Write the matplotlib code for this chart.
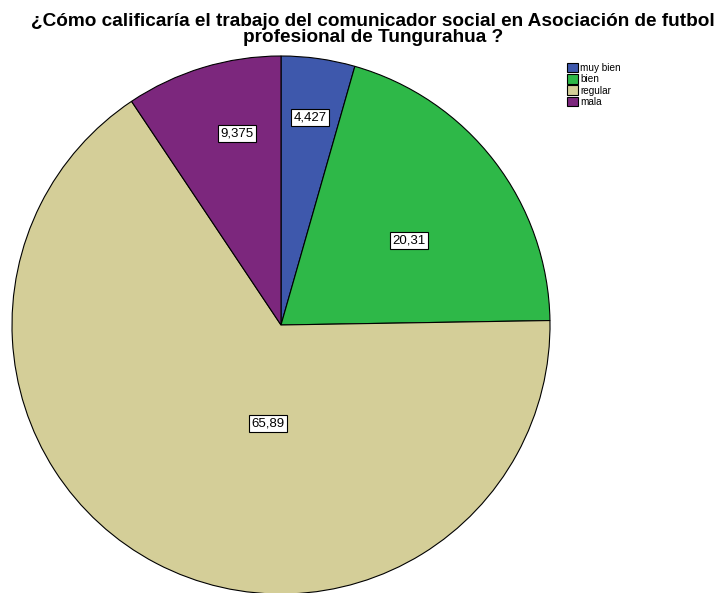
import numpy as np
import matplotlib
matplotlib.use("Agg")
import matplotlib.pyplot as plt
from matplotlib.patches import Patch

categorias = ["muy bien", "bien", "regular", "mala"]
valores = [4.427, 20.31, 65.89, 9.375]
etiquetas = ["4,427", "20,31", "65,89", "9,375"]
colores = ["#3E58AC", "#2EB848", "#D4CE98", "#7C277D"]
# posición radial de cada etiqueta (fracción del radio) y desfase angular
lab_r = [0.78, 0.57, 0.37, 0.73]
lab_da = [0, -4, 20, -4]

plt.rcParams["font.family"] = ["Liberation Sans", "DejaVu Sans"]

W, H, DPI = 721, 593, 100
cx, cy, R = 281, 325, 269

fig = plt.figure(figsize=(W / DPI, H / DPI), dpi=DPI)
ax = fig.add_axes([0, 0, 1, 1])

wedges, _ = ax.pie(valores, colors=colores, startangle=90, counterclock=False,
                   radius=1, wedgeprops=dict(edgecolor="black", linewidth=0.8))
ax.set_xlim(-cx / R, (W - cx) / R)
ax.set_ylim(-(H - cy) / R, cy / R)
ax.set_aspect("equal")
ax.axis("off")

for w, txt, r, da in zip(wedges, etiquetas, lab_r, lab_da):
    ang = np.deg2rad((w.theta1 + w.theta2) / 2 + da)
    ax.text(r * np.cos(ang), r * np.sin(ang), txt, ha="center", va="center",
            fontsize=9.5,
            bbox=dict(boxstyle="square,pad=0.2", fc="white", ec="black", lw=0.8))

fig.text(373 / W, 1 - 29.5 / H,
         "¿Cómo calificaría el trabajo del comunicador social en Asociación de futbol\n"
         "profesional de Tungurahua ?",
         ha="center", va="center", fontsize=13.7, fontweight="bold", linespacing=0.95)

handles = [Patch(fc=c, ec="black", lw=0.8) for c in colores]
fig.legend(handles, categorias, loc="upper left", bbox_to_anchor=(562 / W, 1 - 58 / H),
           frameon=False, fontsize=7.2, handlelength=1.05, handleheight=1.05,
           handletextpad=0.3, labelspacing=0.12, borderpad=0)

fig.savefig("out.png", dpi=DPI)
